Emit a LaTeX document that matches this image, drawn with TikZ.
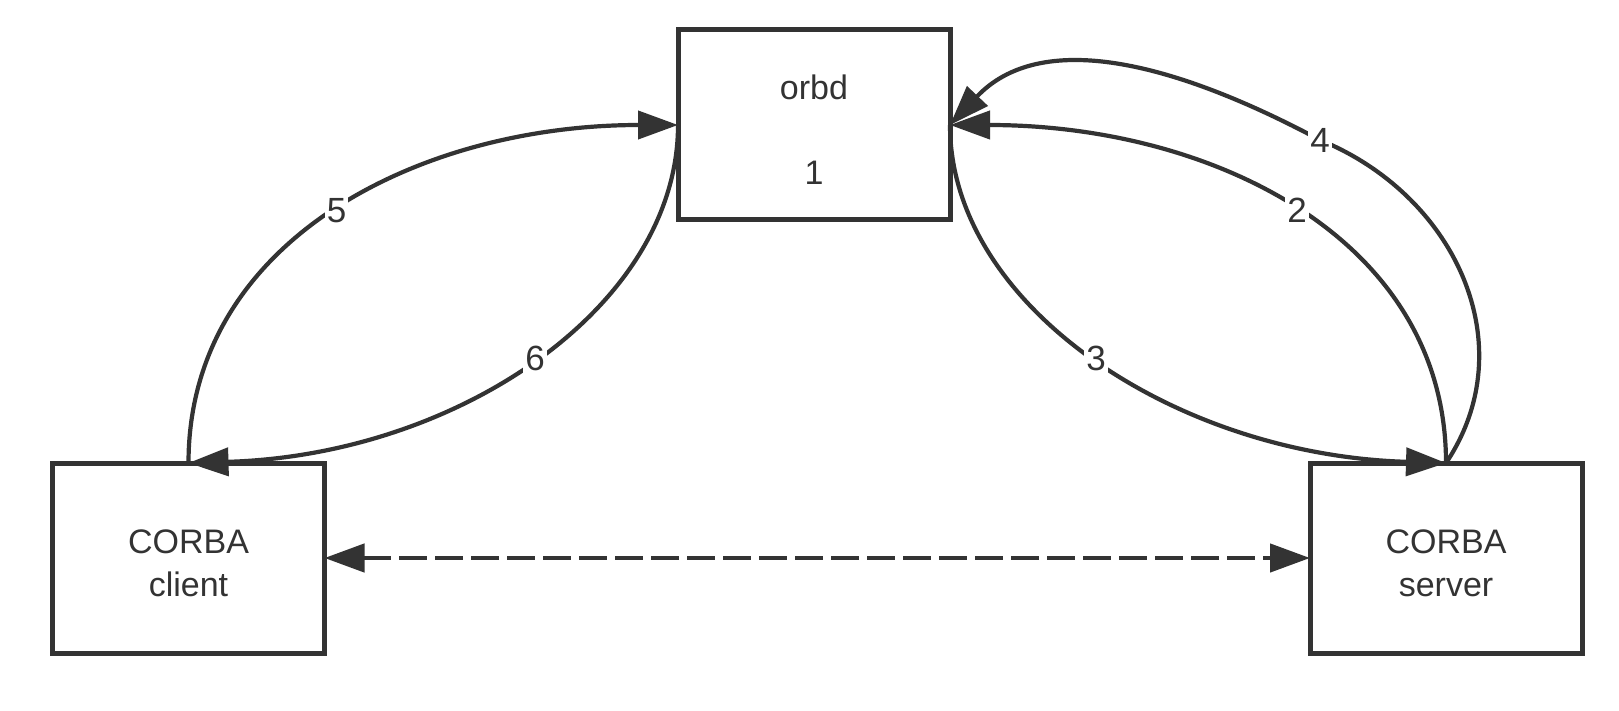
\documentclass[tikz,border=0pt]{standalone}
\usepackage{fontspec}
\setmainfont{Liberation Sans}
\usetikzlibrary{arrows.meta}
\definecolor{ink}{HTML}{333333}
\newcommand{\topstrut}{\rule{0pt}{35pt}}
\begin{document}
\begin{tikzpicture}[x=1pt, y=-1pt,
  box/.style={draw=ink, line width=5pt, fill=white, minimum width=272pt,
    minimum height=190pt, outer sep=0pt, inner sep=0pt, align=center,
    text=ink, font=\fontsize{34}{43}\selectfont},
  flow/.style={draw=ink, line width=4.2pt, -{Triangle[length=40pt,width=28pt]}},
  lbl/.style={fill=white, text=ink, inner sep=2pt, font=\fontsize{35}{40}\selectfont},
  ]
\useasboundingbox[fill=white] (0,0) rectangle (1619,711);

% components
\node[box] (orbd)   at (814,125)  {\topstrut orbd\\[42pt]1};
\node[box] (client) at (188.5,558) {\topstrut CORBA\\client};
\node[box] (server) at (1446,558) {\topstrut CORBA\\server};

% client <-> orbd
\draw[flow] (client.north) .. controls (188.5,240) and (420,125) ..
  node[lbl] (l5) {5} (orbd.west);
\draw[flow] (orbd.west) .. controls (678,305) and (460,455) ..
  node[lbl] (l6) {6} (client.north);

% server <-> orbd
\draw[flow] (server.north) .. controls (1446,240) and (1214,125) ..
  node[lbl] (l2) {2} (orbd.east);
\draw[flow] (orbd.east) .. controls (950,305) and (1174,455) ..
  node[lbl] (l3) {3} (server.north);
\draw[flow] (server.north) .. controls (1525,345) and (1455,195) ..
  (1320,140) node[lbl] (l4) {4}
  .. controls (1170,60) and (1040,30) .. (orbd.east);

% direct client <-> server link
\draw[draw=ink, line width=4.5pt, dash pattern=on 28pt off 8pt,
  {Triangle[length=40pt,width=28pt]}-{Triangle[length=40pt,width=28pt]}]
  (client.east) -- (server.west);
\end{tikzpicture}
\end{document}
